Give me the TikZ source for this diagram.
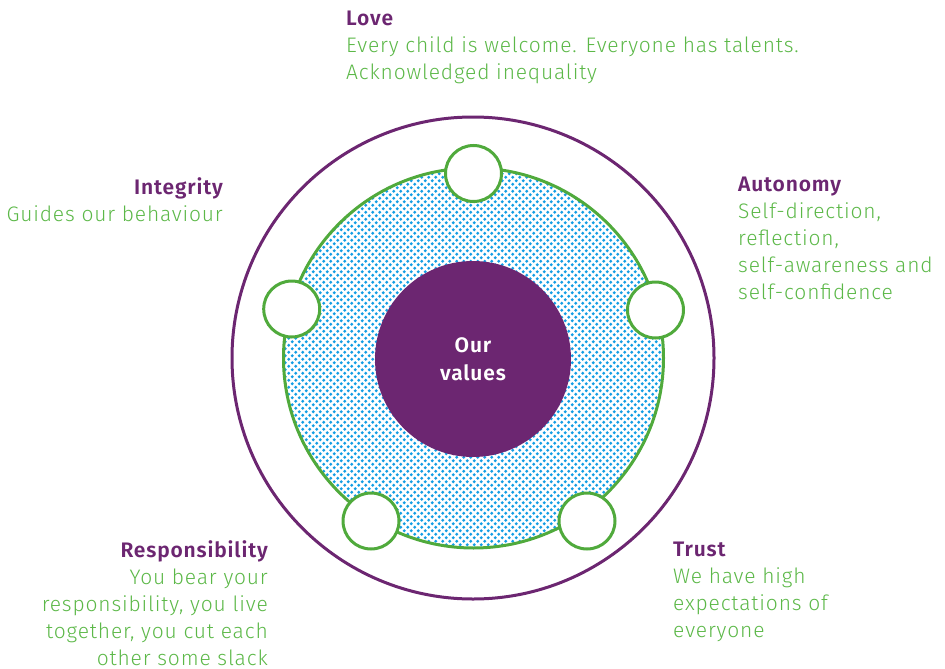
\documentclass[tikz,border=0pt]{standalone}
\usepackage{fontspec}
\setmainfont{Fira Sans}[UprightFont=* Light, BoldFont=* SemiBold, LetterSpace=4]
\usetikzlibrary{patterns.meta,calc}
\definecolor{vpurple}{RGB}{108,38,113}
\definecolor{vgreen}{RGB}{92,184,72}
\definecolor{vline}{RGB}{80,170,60}
\definecolor{vblue}{RGB}{20,158,228}
\tikzdeclarepattern{name=bluedots, type=uncolored,
  bottom left={(-.1pt,-.1pt)}, top right={(7.1pt,7.1pt)}, tile size={(7pt,7pt)},
  code={\fill (1.75pt,1.75pt) circle (1.7pt); \fill (5.25pt,5.25pt) circle (1.7pt);}}
\begin{document}
\begin{tikzpicture}[x=1pt,y=-1pt,
  ring/.style={circle, inner sep=0, line width=3pt},
  smallc/.style={circle, inner sep=0, minimum size=56pt, draw=vline, fill=white, line width=3pt},
  label/.style={inner sep=0, font=\fontsize{21}{27}\selectfont, text=vgreen}]
\useasboundingbox (0,0) rectangle (945,669);
\node[ring, minimum size=482pt, draw=vpurple] (outer) at (473,358) {};
\node[ring, minimum size=380pt, draw=vline, pattern={bluedots}, pattern color=vblue] (mid) at (473.5,358) {};
\node[ring, minimum size=196pt, fill=vpurple, line width=0pt, text=white, align=center,
  font=\fontsize{21}{28}\selectfont\bfseries] (core) at (473,359) {Our\\values};
\foreach \p/\n in {{(473.5,173.5)}/love,{(655.5,310)}/auto,{(291.7,309)}/integ,{(371,521)}/resp,{(587,521)}/trust}
  \node[smallc] (c-\n) at \p {};
\node[label, anchor=north west, align=left] (tlove) at (346,11)
  {\textcolor{vpurple}{\bfseries Love}\\Every child is welcome. Everyone has talents.\\Acknowledged inequality};
\node[label, anchor=north east, align=right] (tinteg) at (223,177)
  {\textcolor{vpurple}{\bfseries Integrity}\\Guides our behaviour};
\node[label, anchor=north west, align=left] (tauto) at (738,177)
  {\textcolor{vpurple}{\bfseries Autonomy}\\Self-direction,\\reflection,\\self-awareness and\\self-confidence};
\node[label, anchor=north east, align=right] (tresp) at (268,540)
  {\textcolor{vpurple}{\bfseries Responsibility}\\You bear your\\responsibility, you live\\together, you cut each\\other some slack};
\node[label, anchor=north west, align=left] (ttrust) at (673,542)
  {\textcolor{vpurple}{\bfseries Trust}\\We have high\\expectations of\\everyone};
\end{tikzpicture}
\end{document}
